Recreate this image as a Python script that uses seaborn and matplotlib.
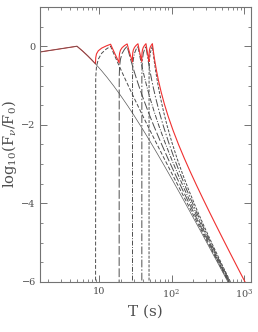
import matplotlib
matplotlib.use("Agg")
import matplotlib.pyplot as plt
from matplotlib.ticker import MultipleLocator, LogLocator, NullFormatter
import pandas as pd
import seaborn as sns

# underlying decay (thin line)
base_t = [1.5, 3, 5, 6, 7, 8, 9, 11, 13, 16, 20, 25, 30, 40, 50, 65, 80, 100,
          130, 160, 200, 260, 330, 420, 530, 670]
base_logf = [-0.15, -0.064, 0, -0.125, -0.241, -0.349, -0.449, -0.632, -0.795,
             -1.011, -1.259, -1.520, -1.743, -2.110, -2.405, -2.763, -3.052,
             -3.367, -3.744, -4.046, -4.373, -4.760, -5.115, -5.475, -5.823, -6.176]

# flares: start times and the (shared) flare profile, time since start
flare_start = [9, 19, 29, 39, 49]
prof_dt = [0, 0.055, 0.275, 0.825, 1.925, 3.575, 5.5, 6.08, 6.9, 8.06, 9.57, 11.32,
           13.65, 17.14, 21.79, 28.77, 38.08, 52.05, 69.5, 92.78, 121.9, 168.4,
           226.6, 319.7, 459.3, 692.1]
prof_logf = [-8, -0.8, -0.52, -0.33, -0.18, -0.075, 0, -0.074, -0.172, -0.302,
             -0.456, -0.616, -0.807, -1.054, -1.331, -1.670, -2.029, -2.446,
             -2.845, -3.253, -3.645, -4.116, -4.554, -5.065, -5.607, -6.224]

# total (red)
total_t = [1.5, 3, 5, 6, 7, 8, 9,
           9.055, 9.275, 9.825, 10.925, 12.575, 14.5, 15.5, 16.5, 17.5, 19,
           19.055, 19.275, 19.825, 20.925, 22.575, 24.5, 25.5, 26.5, 27.5, 29,
           29.055, 29.275, 29.825, 30.925, 32.575, 34.5, 35.5, 36.5, 37.5, 39,
           39.055, 39.275, 39.825, 40.925, 42.575, 44.5, 45.5, 46.5, 47.5, 49,
           49.055, 49.275, 49.825, 50.925, 52.575, 54.5, 55.5, 56.5, 57.5, 59,
           62, 66, 72, 80, 90, 105, 125, 150, 180, 220, 270, 330, 400, 500,
           620, 780, 1000, 1250]
total_logf = [-0.15, -0.064, 0, -0.125, -0.241, -0.349, -0.449,
              -0.293, -0.196, -0.116, -0.048, 0.006, 0.051, -0.068, -0.178, -0.279, -0.419,
              -0.271, -0.179, -0.101, -0.035, 0.017, 0.059, -0.058, -0.165, -0.265, -0.401,
              -0.259, -0.168, -0.093, -0.029, 0.022, 0.063, -0.053, -0.160, -0.258, -0.393,
              -0.253, -0.164, -0.090, -0.026, 0.024, 0.065, -0.050, -0.157, -0.255, -0.389,
              -0.250, -0.161, -0.088, -0.025, 0.025, 0.066, -0.049, -0.155, -0.253, -0.386,
              -0.617, -0.869, -1.170, -1.483, -1.789, -2.144, -2.506, -2.856, -3.187,
              -3.536, -3.881, -4.211, -4.522, -4.878, -5.218, -5.577, -5.963, -6.308]

xtick_vals = [10, 100, 1000]
xtick_labels = ["10", "10$^2$", "10$^3$"]
ytick_vals = [-6, -4, -2, 0]

sns.set_style("ticks")
plt.rcParams["font.family"] = ["DejaVu Serif"]
plt.rcParams["mathtext.fontset"] = "dejavuserif"

fig = plt.figure(figsize=(2.58, 3.32), dpi=100)
ax = fig.add_axes([0.155, 0.151, 0.818, 0.828])
ax.set_xscale("log")

dash_styles = [(0, (4, 2)), (0, (9, 2.5)), (0, (5, 1.5, 1, 1.5)),
               (0, (8, 2, 1.5, 2)), (0, (3, 1.5))]
for start, ls in zip(flare_start, dash_styles):
    df = pd.DataFrame({"T": [start + d for d in prof_dt], "logF": prof_logf})
    sns.lineplot(data=df, x="T", y="logF", ax=ax, color="0.3", lw=0.7,
                 linestyle=ls, estimator=None, sort=False)

tot = pd.DataFrame({"T": total_t, "logF": total_logf})
sns.lineplot(data=tot, x="T", y="logF", ax=ax, color="#f03030", lw=0.8,
             estimator=None, sort=False)

base = pd.DataFrame({"T": base_t, "logF": base_logf})
sns.lineplot(data=base, x="T", y="logF", ax=ax, color="0.35", lw=0.5,
             estimator=None, sort=False)

ax.set_xlim(1.55, 1240)
ax.set_ylim(-6, 1)

ax.set_xticks(xtick_vals)
ax.set_xticklabels(xtick_labels)
ax.xaxis.set_minor_locator(LogLocator(base=10, subs=range(2, 10)))
ax.xaxis.set_minor_formatter(NullFormatter())
ax.set_yticks(ytick_vals)
ax.yaxis.set_minor_locator(MultipleLocator(0.5))

ax.tick_params(which="both", direction="in", top=True, right=True,
               color="0.45", labelcolor="0.3", labelsize=7, pad=3)
ax.tick_params(axis="x", pad=4)
ax.tick_params(which="major", length=5, width=0.7)
ax.tick_params(which="minor", length=2.5, width=0.6)
for s in ax.spines.values():
    s.set_color("0.45")
    s.set_linewidth(0.8)

ax.set_xlabel("T (s)", fontsize=11, color="0.3", labelpad=3)
ax.set_ylabel(r"log$_{10}$(F$_\nu$/F$_0$)", fontsize=10.5, color="0.3")
ax.yaxis.set_label_coords(-0.1, 0.5)

fig.savefig("out.png", dpi=100)
